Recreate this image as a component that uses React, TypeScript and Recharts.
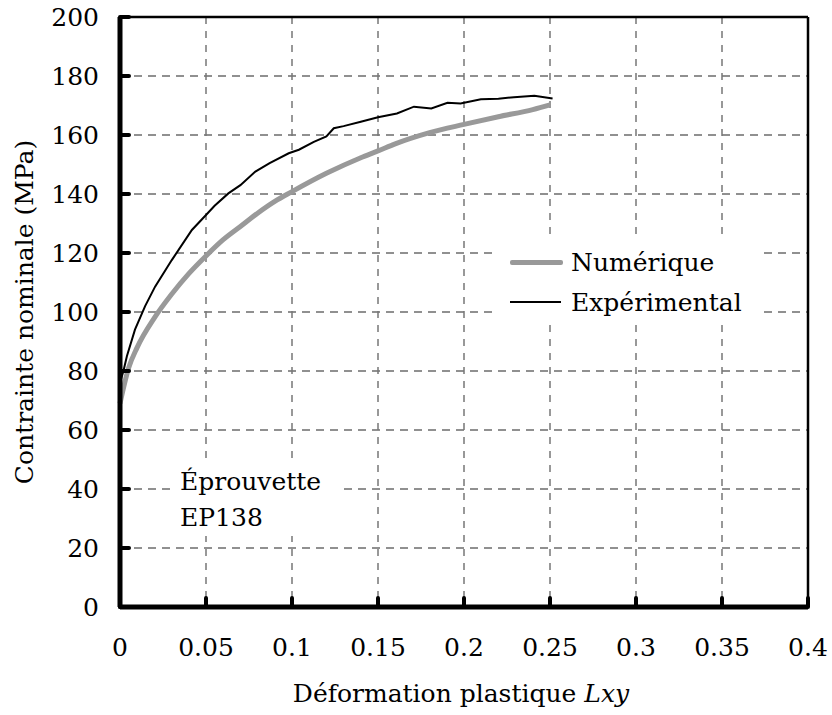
import React from 'react'
import {
  LineChart, Line, XAxis, YAxis, CartesianGrid, ReferenceLine, Label,
} from 'recharts'

const FONT = '"DejaVu Serif", serif'
const FS = 25

const X_TICKS = [0, 0.05, 0.1, 0.15, 0.2, 0.25, 0.3, 0.35, 0.4]
const Y_TICKS = [0, 20, 40, 60, 80, 100, 120, 140, 160, 180, 200]

// Numérique (courbe grise)
const NUM_X = [0, 0.005, 0.01, 0.02, 0.03, 0.04, 0.05, 0.06, 0.07, 0.08, 0.09, 0.1, 0.12, 0.14, 0.15, 0.16, 0.18, 0.2, 0.22, 0.24, 0.25]
const NUM_Y = [69, 81, 88, 98, 106, 113, 119, 124.5, 129, 133.5, 137.5, 140.8, 147, 152.3, 154.6, 157, 160.8, 163.6, 166.2, 168.6, 170.2]

// Expérimental (courbe noire)
const EXP_X = [0, 0.002, 0.004, 0.0087, 0.0146, 0.0204, 0.0301, 0.0418, 0.05, 0.055, 0.063, 0.07, 0.0787, 0.087, 0.0981, 0.104, 0.1127, 0.12, 0.1243, 0.13, 0.14, 0.15, 0.161, 0.1709, 0.181, 0.1904, 0.198, 0.2098, 0.22, 0.229, 0.2409, 0.2515]
const EXP_Y = [76, 80, 85, 94, 102, 108.6, 117.6, 127.8, 132.9, 136, 140.2, 143, 147.6, 150.5, 153.8, 155, 157.7, 159.5, 162.3, 163, 164.5, 166, 167.3, 169.6, 169, 170.9, 170.7, 172.1, 172.3, 172.8, 173.3, 172.4]

const numData = NUM_X.map((x, i) => ({ x, y: NUM_Y[i] }))
const expData = EXP_X.map((x, i) => ({ x, y: EXP_Y[i] }))

const tickStyle = { fontFamily: FONT, fontSize: FS, fill: '#000' }

export default function App() {
  return (
    <div style={{ position: 'absolute', left: 0, top: 0, width: 832, height: 715, background: '#fff' }}>
      <LineChart width={832} height={715} margin={{ top: 17, right: 24, bottom: 8, left: 10 }}>
        <CartesianGrid horizontal vertical={false} stroke="#222" strokeWidth={1.2} strokeDasharray="8 6" />
        <CartesianGrid horizontal={false} vertical stroke="#777" strokeWidth={1.5} strokeDasharray="7 7" verticalValues={X_TICKS} />
        <XAxis
          type="number"
          dataKey="x"
          domain={[0, 0.4]}
          ticks={X_TICKS}
          allowDuplicatedCategory={false}
          height={100}
          tickSize={-9}
          tickMargin={40}
          tickLine={{ stroke: '#000', strokeWidth: 4, strokeLinecap: 'round' }}
          tick={tickStyle}
          axisLine={{ stroke: '#000', strokeWidth: 5 }}
        >
          <Label
            content={({ viewBox }: any) => (
              <text x={viewBox.x + viewBox.width / 2 - 3} y={viewBox.y + 95} textAnchor="middle" fontFamily={FONT} fontSize={FS} fill="#000">
                Déformation plastique <tspan fontStyle="italic">Lxy</tspan>
              </text>
            )}
          />
        </XAxis>
        <YAxis
          type="number"
          dataKey="y"
          domain={[0, 200]}
          ticks={Y_TICKS}
          width={110}
          tickSize={-9}
          tickMargin={30}
          tickLine={{ stroke: '#000', strokeWidth: 4, strokeLinecap: 'round' }}
          tick={tickStyle}
          axisLine={{ stroke: '#000', strokeWidth: 5 }}
        >
          <Label
            content={({ viewBox }: any) => {
              const cx = viewBox.x + 14
              const cy = viewBox.y + viewBox.height / 2
              return (
                <text x={cx} y={cy} transform={`rotate(-90 ${cx} ${cy})`} dy="0.35em" textAnchor="middle" fontFamily={FONT} fontSize={FS} fill="#000">
                  Contrainte nominale (MPa)
                </text>
              )
            }}
          />
        </YAxis>
        <ReferenceLine y={200} stroke="#000" strokeWidth={2.5} />
        <ReferenceLine x={0.4} stroke="#000" strokeWidth={2.5} />
        <Line data={expData} dataKey="y" type="linear" stroke="#000" strokeWidth={2} dot={false} isAnimationActive={false} name="Expérimental" />
        <Line data={numData} dataKey="y" type="monotone" stroke="#999" strokeWidth={5} dot={false} isAnimationActive={false} name="Numérique" />
      </LineChart>

      {/* légende */}
      <div
        style={{
          position: 'absolute', left: 496, top: 238, width: 262, height: 84, background: '#fff',
          fontFamily: FONT, fontSize: FS, color: '#000', paddingLeft: 14, boxSizing: 'border-box',
        }}
      >
        <div style={{ display: 'flex', alignItems: 'center', height: 48 }}>
          <span style={{ display: 'inline-block', width: 53, height: 5, borderRadius: 2, background: '#999', marginRight: 8 }} />
          Numérique
        </div>
        <div style={{ display: 'flex', alignItems: 'center', height: 32, marginTop: 0 }}>
          <span style={{ display: 'inline-block', width: 51, height: 2, background: '#000', marginRight: 10 }} />
          Expérimental
        </div>
      </div>

      {/* annotation */}
      <div
        style={{
          position: 'absolute', left: 174, top: 464, width: 160, background: '#fff',
          fontFamily: FONT, fontSize: FS, lineHeight: '36px', paddingLeft: 6, color: '#000',
        }}
      >
        Éprouvette<br />EP138
      </div>
    </div>
  )
}
